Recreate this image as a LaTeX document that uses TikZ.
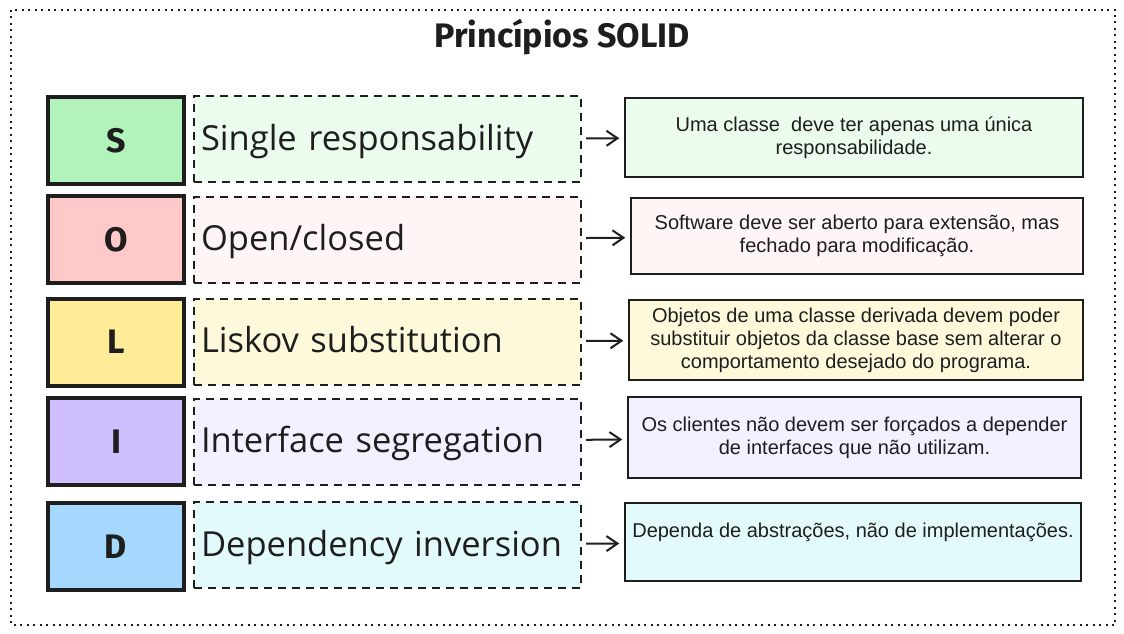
\documentclass[tikz,border=0pt]{standalone}
\usepackage{fontspec}
\usetikzlibrary{arrows.meta}
\newfontfamily\titlefont{Fira Sans}
\newfontfamily\namefont{Open Sans}
\newfontfamily\descfont{Liberation Sans}
\definecolor{ink}{HTML}{1E1E1E}
\definecolor{sgreen}{HTML}{B2F2BB}
\definecolor{sgreenl}{HTML}{EBFBEE}
\definecolor{ored}{HTML}{FFC9C9}
\definecolor{oredl}{HTML}{FFF5F5}
\definecolor{lyellow}{HTML}{FFEC99}
\definecolor{lyellowl}{HTML}{FFF9DB}
\definecolor{iviolet}{HTML}{D0BFFF}
\definecolor{ivioletl}{HTML}{F3F0FF}
\definecolor{dblue}{HTML}{A5D8FF}
\definecolor{dcyanl}{HTML}{E3FAFC}
\begin{document}
\begin{tikzpicture}[x=1pt,y=-1pt,
    letterbox/.style={draw=ink,line width=4pt,minimum width=136pt,minimum height=87pt,
      text=ink,font=\titlefont\bfseries\fontsize{34}{34}\selectfont},
    namebox/.style={draw=ink,line width=2pt,dash pattern=on 8pt off 6pt,
      minimum width=387pt,minimum height=86pt,text width=373pt,align=left,
      text height=25pt,text depth=3pt,
      inner xsep=7pt,text=ink,font=\namefont\fontsize{34.5}{38}\selectfont},
    descbox/.style={draw=ink,line width=1.5pt,minimum height=79pt,align=center,
      text=ink,font=\descfont\fontsize{20}{23}\selectfont},
    link/.style={draw=ink,line width=2pt,
      -{Straight Barb[length=11pt,width=15pt,line width=2pt]},
      shorten <=4pt,shorten >=5pt}]
  \useasboundingbox (0,0) rectangle (1124,634);
  \draw[ink,line width=1.5pt,dash pattern=on 2pt off 4.5pt] (11,10) rectangle (1115,625);
  \node[text=ink,font=\titlefont\bfseries\fontsize{34}{34}\selectfont] (title) at (562,37) {Princípios SOLID};
  % letters
  \draw
    (116,140.5) node[letterbox,fill=sgreen] (s){S}
    (116,239.5) node[letterbox,fill=ored] (o){O}
    (116,342) node[letterbox,fill=lyellow] (l){L}
    (116,441.5) node[letterbox,fill=iviolet] (i){I}
    (116,546.5) node[letterbox,fill=dblue] (d){D};
  % principle names
  \draw
    (387.5,139) node[namebox,fill=sgreenl] (sname){Single responsability}
    (387.5,239.5) node[namebox,fill=oredl] (oname){Open/closed}
    (387.5,341.5) node[namebox,fill=lyellowl] (lname){Liskov substitution}
    (387.5,441.5) node[namebox,fill=ivioletl] (iname){Interface segregation}
    (387.5,545) node[namebox,fill=dcyanl] (dname){Dependency inversion};
  % descriptions
  \draw
    (854,137.5) node[descbox,fill=sgreenl,minimum width=458pt] (sdesc){Uma classe\ \ deve ter apenas uma única\\responsabilidade.}
    (857,236) node[descbox,fill=oredl,minimum width=452pt,minimum height=76pt] (odesc){Software deve ser aberto para extensão, mas\\fechado para modificação.}
    (856,340) node[descbox,fill=lyellowl,minimum width=454pt,minimum height=80pt] (ldesc){Objetos de uma classe derivada devem poder\\substituir objetos da classe base sem alterar o\\comportamento desejado do programa.}
    (854.5,437.5) node[descbox,fill=ivioletl,minimum width=453pt,minimum height=81pt] (idesc){Os clientes não devem ser forçados a depender\\de interfaces que não utilizam.}
    (853,542) node[descbox,fill=dcyanl,minimum width=456pt,minimum height=78pt] (ddesc){Dependa de abstrações, não de implementações.\\\mbox{}};
  \begin{scope}[link]
    \draw (sname) -- (sdesc);
    \draw (oname) -- (odesc);
    \draw (lname) -- (ldesc);
    \draw (iname) -- (idesc);
    \draw (dname) -- (ddesc);
  \end{scope}
\end{tikzpicture}
\end{document}
